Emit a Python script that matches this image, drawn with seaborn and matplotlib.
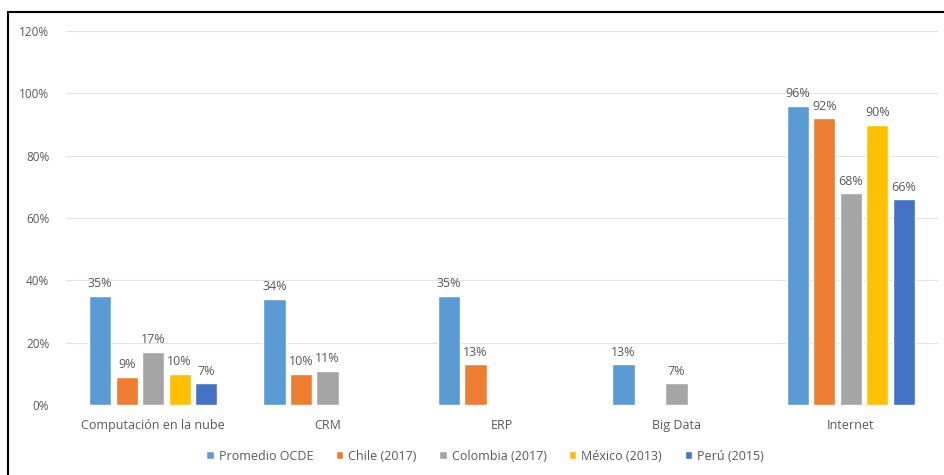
import numpy as np
import pandas as pd
import seaborn as sns
import matplotlib.pyplot as plt
from matplotlib.lines import Line2D

categorias = ["Computación en la nube", "CRM", "ERP", "Big Data", "Internet"]
paises = ["Promedio OCDE", "Chile (2017)", "Colombia (2017)", "México (2013)", "Perú (2015)"]
ocde = [35, 34, 35, 13, 96]
chile = [9, 10, 13, np.nan, 92]
colombia = [17, 11, np.nan, 7, 68]
mexico = [10, np.nan, np.nan, np.nan, 90]
peru = [7, np.nan, np.nan, np.nan, 66]
colores = ["#5B9BD5", "#ED7D31", "#A5A5A5", "#FFC000", "#4472C4"]

filas = []
for serie, vals in zip(paises, [ocde, chile, colombia, mexico, peru]):
    for cat, v in zip(categorias, vals):
        filas.append({"cat": cat, "pais": serie, "valor": v})
df = pd.DataFrame(filas)

sns.set_style("white")
plt.rcParams['font.family'] = ['Open Sans', 'DejaVu Sans']
texto = "#595959"

fig = plt.figure(figsize=(9.44, 4.75), dpi=100)
ax = fig.add_axes([66/944, 70/475, 872/944, 374/475])

sns.barplot(data=df, x="cat", y="valor", hue="pais", order=categorias,
            hue_order=paises, palette=colores, width=0.76, gap=0.16,
            saturation=1, ax=ax, legend=True)

for cont in ax.containers:
    etiquetas = ["" if np.isnan(b.get_height()) else f"{b.get_height():.0f}%" for b in cont]
    ax.bar_label(cont, labels=etiquetas, padding=4, fontsize=9, color=texto)

ax.set_ylim(0, 120)
ax.set_yticks(range(0, 121, 20))
ax.set_yticklabels([f"{t}%" for t in range(0, 121, 20)], fontsize=8.5, color=texto)
ax.tick_params(axis="x", labelsize=9, colors=texto, length=0, pad=10)
ax.tick_params(axis="y", length=0, pad=12)
ax.yaxis.grid(True, color="#E3E3E3", linewidth=0.8)
ax.set_axisbelow(True)
ax.set_xlabel("")
ax.set_ylabel("")
for s in ax.spines.values():
    s.set_visible(False)

handles, labels = ax.get_legend_handles_labels()
ax.legend(handles, labels, loc="center", bbox_to_anchor=(485/944, 1 - 456/475),
          bbox_transform=fig.transFigure, ncol=5, frameon=False, fontsize=9,
          handlelength=0.6, handleheight=0.6, handletextpad=0.4, columnspacing=1.8,
          labelcolor=texto)

# marco del recuadro
fig.add_artist(Line2D([8/944, 8/944], [0, 1 - 12/475], color="black", linewidth=1.5,
                      transform=fig.transFigure))
fig.add_artist(Line2D([8/944, 1], [1 - 12/475, 1 - 12/475], color="black", linewidth=1.5,
                      transform=fig.transFigure))

fig.savefig("out.png", dpi=100)
